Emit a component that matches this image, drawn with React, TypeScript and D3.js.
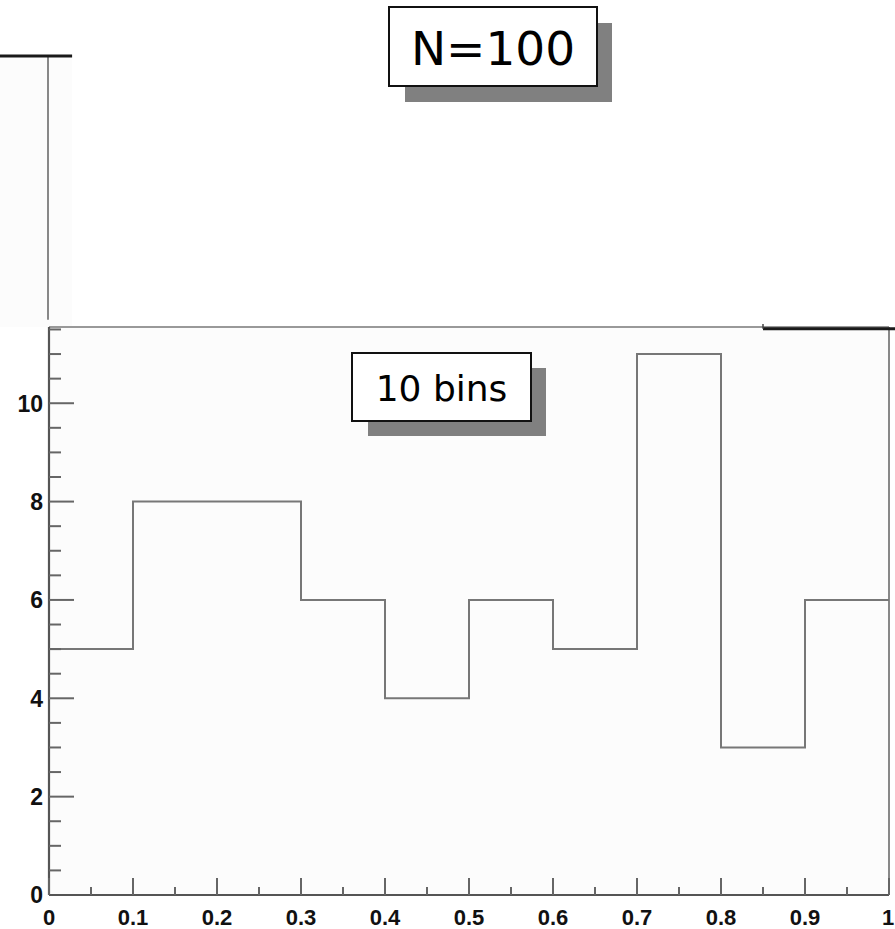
import React from "react";
import * as d3 from "d3";

// Lower panel: 10-bin histogram of a uniform sample
const binEdges = [0, 0.1, 0.2, 0.3, 0.4, 0.5, 0.6, 0.7, 0.8, 0.9, 1.0];
const binCounts = [5, 8, 8, 6, 4, 6, 5, 11, 3, 6];
const yTickValues = [0, 2, 4, 6, 8, 10];
const xTickValues = [0, 0.1, 0.2, 0.3, 0.4, 0.5, 0.6, 0.7, 0.8, 0.9, 1];
const xTickLabels = ["0", "0.1", "0.2", "0.3", "0.4", "0.5", "0.6", "0.7", "0.8", "0.9", "1"];

// Upper panel (N=100), only partly visible above the lower frame
const upperBinStarts = [-0.06, 0.85];
const upperBinEnds = [0.0275, 1.01];
const upperBinCounts = [40, 19.95];
// clipped level of the riser just before the right-hand upper bin
const upperRiserTop = 20.3;

const W = 895;
const H = 929;

export default function App() {
  const x = d3.scaleLinear().domain([0, 1]).range([49, 889]);
  const yMax = d3.max(binCounts)! * 1.05;
  const y = d3.scaleLinear().domain([0, yMax]).range([895, 327]);
  const yUpper = d3.scaleLinear().domain([0, 40]).range([600, 56]);

  // step outline of the histogram
  const stepPts: [number, number][] = [];
  binCounts.forEach((c, i) => {
    stepPts.push([x(binEdges[i]), y(c)]);
    stepPts.push([x(binEdges[i + 1]), y(c)]);
  });
  const stepLine = d3.line<[number, number]>()(stepPts);

  const minorY = d3.range(0, yMax, 0.5).filter((v) => v % 2 !== 0);
  const minorX = d3.range(0.05, 1, 0.1);

  return (
    <svg
      width={W}
      height={H}
      style={{ position: "absolute", left: 0, top: 0, background: "#fff" }}
    >
      {/* upper panel background */}
      <rect x={0} y={yUpper(40)} width={x(upperBinEnds[0])} height={y(yMax) - yUpper(40)} fill="#fcfcfc" />
      <line x1={x(0) - 1} x2={x(0) - 1} y1={yUpper(40) + 1} y2={yUpper(20.6)} stroke="#888" strokeWidth={2} />

      {/* N=100 label box */}
      <rect x={405} y={23} width={207} height={79} fill="#808080" />
      <rect x={389} y={7} width={208} height={79} fill="#fff" stroke="#111" strokeWidth={2} />
      <text x={493} y={65} textAnchor="middle" fontFamily="DejaVu Sans" fontSize={47} fill="#000">
        N=100
      </text>

      {/* lower frame */}
      <rect x={x(0)} y={y(yMax)} width={x(1) - x(0)} height={y(0) - y(yMax)} fill="#fcfcfc" />
      <line x1={x(0)} x2={x(1)} y1={y(yMax)} y2={y(yMax)} stroke="#999" strokeWidth={2} />
      <line x1={x(1)} x2={x(1)} y1={y(yMax)} y2={y(0)} stroke="#888" strokeWidth={2} />

      {/* upper panel histogram fragments */}
      {upperBinCounts.map((c, i) => (
        <line
          key={"ub" + i}
          x1={x(upperBinStarts[i])}
          x2={x(upperBinEnds[i])}
          y1={yUpper(c)}
          y2={yUpper(c)}
          stroke="#1a1a1a"
          strokeWidth={3}
        />
      ))}
      <line
        x1={x(upperBinStarts[1])}
        x2={x(upperBinStarts[1])}
        y1={yUpper(upperRiserTop)}
        y2={yUpper(upperBinCounts[1])}
        stroke="#444"
        strokeWidth={1.5}
      />

      {/* histogram */}
      <path d={stepLine!} fill="none" stroke="#777" strokeWidth={2} />

      {/* y axis */}
      <line x1={x(0)} x2={x(0)} y1={y(yMax)} y2={y(0)} stroke="#555" strokeWidth={2.2} />
      {yTickValues.map((v) => (
        <g key={"yt" + v}>
          <line x1={x(0)} x2={x(0) + 25} y1={y(v)} y2={y(v)} stroke="#666" strokeWidth={2} />
          <text
            x={43}
            y={y(v)}
            dy="0.36em"
            textAnchor="end"
            fontFamily="Liberation Sans"
            fontWeight="bold"
            fontSize={23}
            fill="#111"
          >
            {v}
          </text>
        </g>
      ))}
      {minorY.map((v) => (
        <line key={"ym" + v} x1={x(0)} x2={x(0) + 12} y1={y(v)} y2={y(v)} stroke="#666" strokeWidth={2} />
      ))}

      {/* x axis */}
      <line x1={x(0)} x2={x(1)} y1={y(0)} y2={y(0)} stroke="#555" strokeWidth={2.2} />
      {xTickValues.map((v, i) => (
        <g key={"xt" + v}>
          <line x1={x(v)} x2={x(v)} y1={y(0)} y2={y(0) - 17} stroke="#666" strokeWidth={2} />
          <text
            x={i === xTickValues.length - 1 ? Math.min(x(v), W - 7) : x(v)}
            y={925}
            textAnchor="middle"
            fontFamily="Liberation Sans"
            fontWeight="bold"
            fontSize={22}
            fill="#111"
          >
            {xTickLabels[i]}
          </text>
        </g>
      ))}
      {minorX.map((v) => (
        <line key={"xm" + v} x1={x(v)} x2={x(v)} y1={y(0)} y2={y(0) - 8} stroke="#666" strokeWidth={2} />
      ))}

      {/* 10 bins label box */}
      <rect x={368} y={368} width={178} height={68} fill="#808080" />
      <rect x={352} y={353} width={179} height={68} fill="#fff" stroke="#111" strokeWidth={2} />
      <text x={441.5} y={401} textAnchor="middle" fontFamily="DejaVu Sans" fontSize={36} fill="#000">
        10 bins
      </text>
    </svg>
  );
}
